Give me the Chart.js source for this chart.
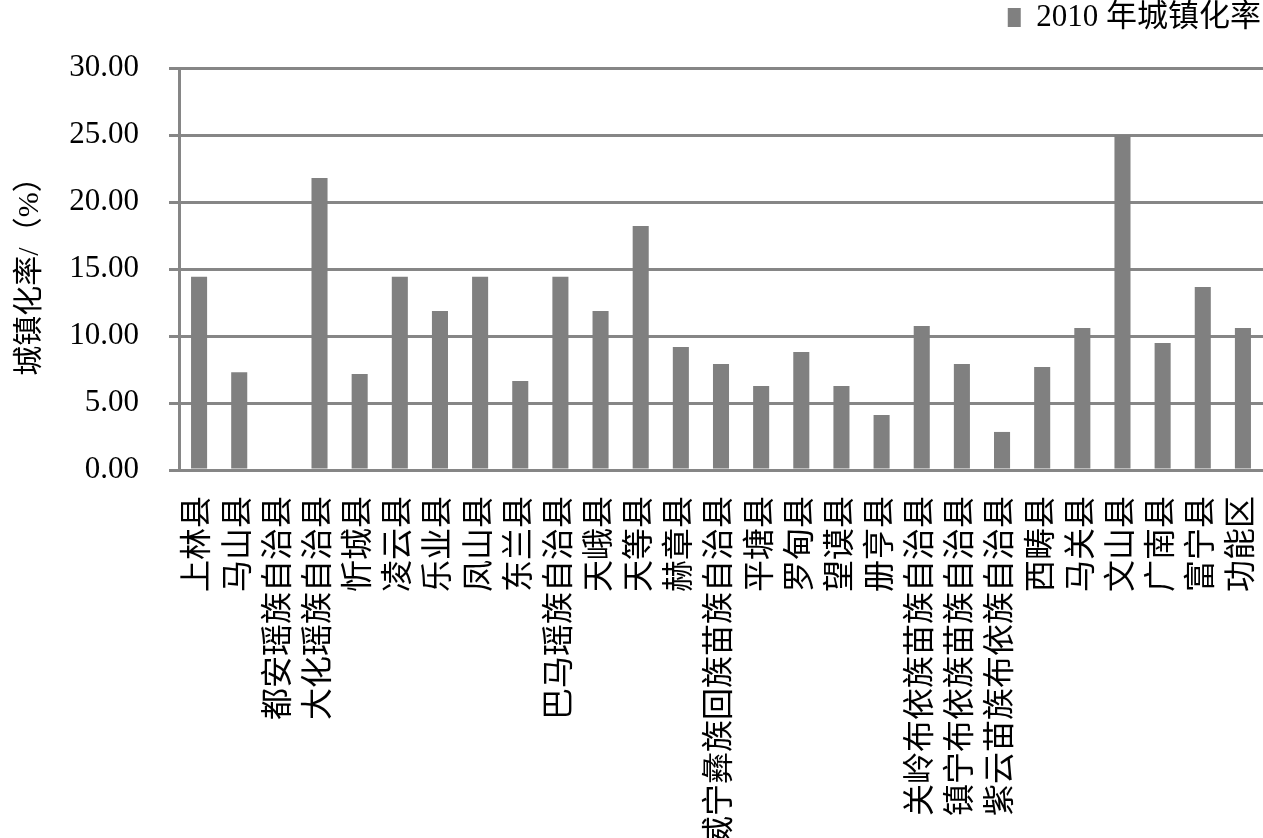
<!DOCTYPE html>
<html>
<head>
<meta charset="utf-8">
<script src="https://cdn.jsdelivr.net/npm/chart.js@4"></script>
<style>
  body { margin: 0; background: #fff; }
  #wrap { width: 1263px; height: 838px; position: relative; }
</style>
</head>
<body>
<div id="wrap"><canvas id="urban-rate"></canvas></div>
<script>
// counties along the x axis
const counties = ['上林县', '马山县', '都安瑶族自治县', '大化瑶族自治县', '忻城县', '凌云县', '乐业县', '凤山县',
  '东兰县', '巴马瑶族自治县', '天峨县', '天等县', '赫章县', '威宁彝族回族苗族自治县', '平塘县', '罗甸县',
  '望谟县', '册亨县', '关岭布依族苗族自治县', '镇宁布依族苗族自治县', '紫云苗族布依族自治县', '西畴县',
  '马关县', '文山县', '广南县', '富宁县', '功能区'];
// 2010 urbanisation rate (%)
const rate2010 = [14.43, 7.29, 0, 21.79, 7.16, 14.43, 11.87, 14.43, 6.64, 14.43, 11.87, 18.21, 9.18, 7.91,
  6.27, 8.81, 6.27, 4.10, 10.75, 7.91, 2.84, 7.69, 10.60, 25.00, 9.48, 13.66, 10.60];
const seriesName = '2010 年城镇化率';
const yTitle = '城镇化率/（%）';
const yTicks = [0, 5, 10, 15, 20, 25, 30];

Chart.defaults.font.family = "'Liberation Serif', 'Noto Sans CJK SC', serif";
Chart.defaults.color = '#000';

// push the plot down below the legend
const legendSpacer = {
  id: 'legendSpacer',
  beforeInit(chart) {
    const fit = chart.legend.fit;
    chart.legend.fit = function() {
      fit.bind(chart.legend)();
      this.height += 25;
    };
  }
};

var canvas = document.getElementById('urban-rate');
var chart = new Chart(canvas, {
  type: 'bar',
  data: {
    labels: counties,
    datasets: [{
      label: seriesName,
      data: rate2010,
      backgroundColor: '#808080',
      barPercentage: 0.4,
      categoryPercentage: 1.0
    }]
  },
  plugins: [legendSpacer],
  options: {
    responsive: true,
    maintainAspectRatio: false,
    animation: false,
    layout: { padding: 0 },
    plugins: {
      tooltip: { enabled: false },
      legend: {
        position: 'top',
        align: 'end',
        labels: {
          font: { size: 31 },
          boxWidth: 13,
          boxHeight: 19,
          padding: 2,
          color: '#000'
        }
      }
    },
    scales: {
      x: {
        grid: { display: false, drawTicks: false },
        border: { display: true, color: '#868686', width: 3 },
        ticks: {
          font: { size: 32 },
          maxRotation: 90,
          minRotation: 90,
          autoSkip: false,
          padding: 26
        },
        afterFit: function(scale) {
          scale.height = 368;
          scale.paddingLeft = 0;
          scale.paddingRight = 0;
        }
      },
      y: {
        min: 0,
        max: 30,
        afterBuildTicks: function(scale) {
          scale.ticks = yTicks.map(function(v) { return { value: v }; });
        },
        grid: { color: '#868686', lineWidth: 3, tickLength: 10 },
        border: { display: true, color: '#868686', width: 3 },
        ticks: {
          font: { size: 31 },
          padding: 30,
          callback: function(value) { return value.toFixed(2); }
        },
        title: {
          display: true,
          text: yTitle,
          font: { size: 30 },
          padding: { top: 12, bottom: 0 }
        },
        afterFit: function(scale) { scale.width = 179; }
      }
    }
  }
});
</script>
</body>
</html>
